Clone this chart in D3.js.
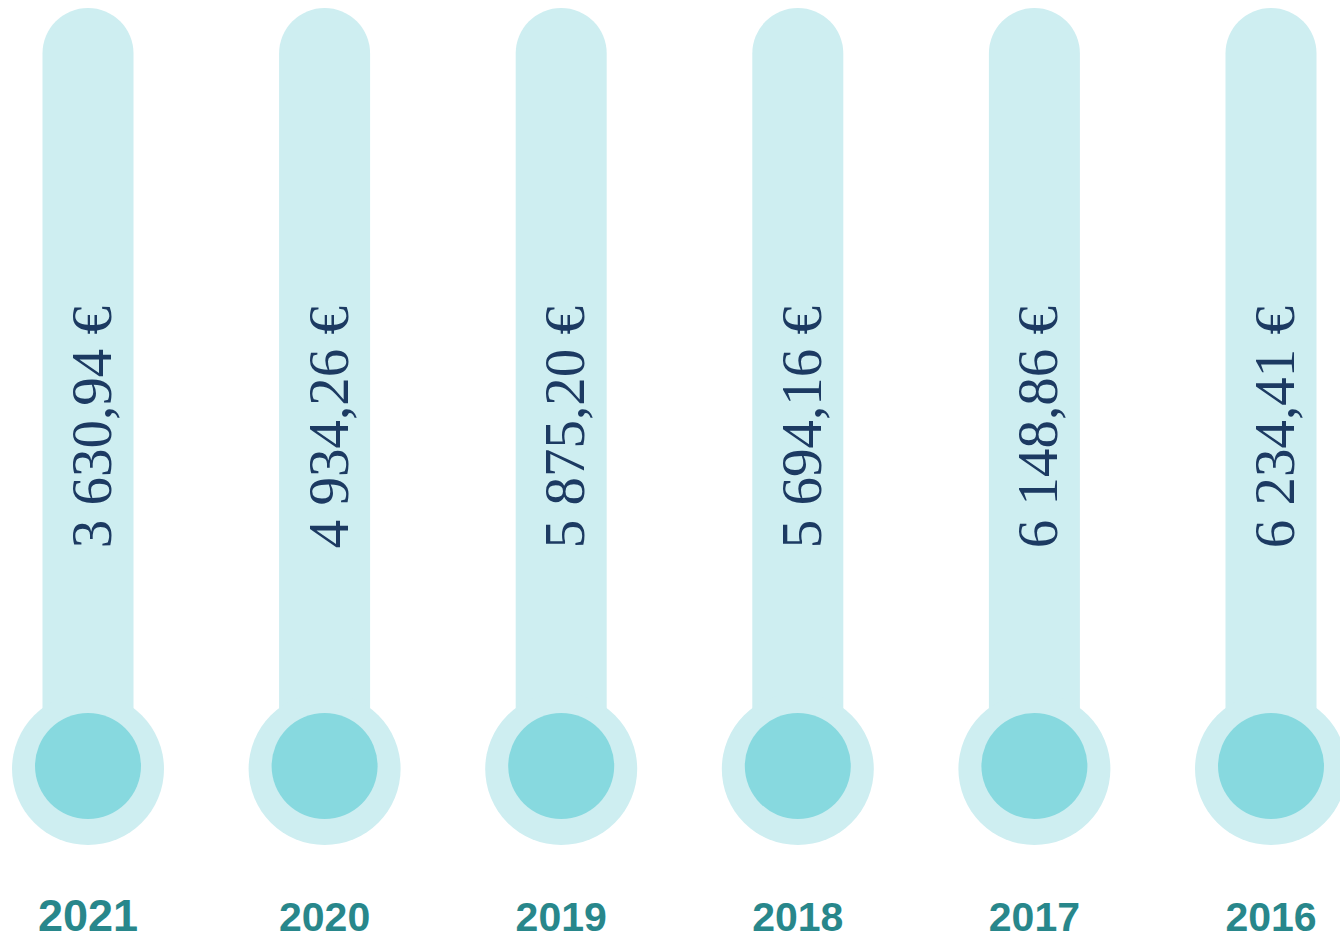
<!DOCTYPE html>
<html>
<head>
<meta charset="utf-8">
<script src="https://cdn.jsdelivr.net/npm/d3@7"></script>
<style>
  body { margin: 0; background: #fff; }
  svg { display: block; }
</style>
</head>
<body>
<div class="canvas"></div>
<script>
// data
const years = ['2021', '2020', '2019', '2018', '2017', '2016'];
const amounts = [3630.94, 4934.26, 5875.20, 5694.16, 6148.86, 6234.41];

const dims = { width: 1340, height: 940 };
const tube = { top: 8, width: 91 };
const bulb = { cy: 769, outer: 76, inner: 53 };

const colors = {
  tube: '#ceeef1',
  bulb: '#87d9df',
  value: '#1c3a62',
  year: '#28878b'
};

// french number format: "3 630,94 €"
const fr = d3.formatLocale({ decimal: ',', thousands: '\u00a0', grouping: [3], currency: ['', '\u00a0€'] });
const money = fr.format('$,.2f');

const x = d3.scalePoint()
  .domain(years)
  .range([88, 1271]);

const svg = d3.select('.canvas')
  .append('svg')
  .attr('width', dims.width)
  .attr('height', dims.height);

const data = years.map((y, i) => ({ year: y, amount: amounts[i] }));

const g = svg.selectAll('g.thermo')
  .data(data)
  .enter()
  .append('g')
  .attr('class', 'thermo')
  .attr('transform', d => `translate(${x(d.year)},0)`);

// tube with rounded top (bottom end hidden under the bulb)
g.append('rect')
  .attr('x', -tube.width / 2)
  .attr('y', tube.top)
  .attr('width', tube.width)
  .attr('height', bulb.cy - tube.top)
  .attr('rx', tube.width / 2)
  .attr('fill', colors.tube);

g.append('circle')
  .attr('cy', bulb.cy)
  .attr('r', bulb.outer)
  .attr('fill', colors.tube);

g.append('circle')
  .attr('cy', bulb.cy - 3)
  .attr('r', bulb.inner)
  .attr('fill', colors.bulb);

// value, rotated along the tube
g.append('text')
  .attr('transform', 'translate(23,427) rotate(-90)')
  .attr('text-anchor', 'middle')
  .attr('font-family', '"Liberation Serif", "Times New Roman", serif')
  .attr('font-size', 57)
  .attr('fill', colors.value)
  .text(d => money(d.amount));

// year label
g.append('text')
  .attr('y', 931)
  .attr('text-anchor', 'middle')
  .attr('font-family', '"Liberation Sans", Arial, sans-serif')
  .attr('font-weight', 'bold')
  .attr('font-size', (d, i) => i === 0 ? 45 : 41)
  .attr('fill', colors.year)
  .text(d => d.year);
</script>
</body>
</html>
